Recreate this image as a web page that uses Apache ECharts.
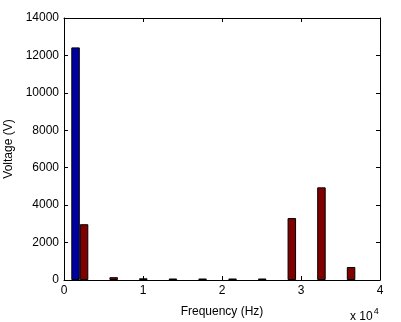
<!DOCTYPE html>
<html>
<head>
<meta charset="utf-8">
<script src="https://cdn.jsdelivr.net/npm/echarts@6/dist/echarts.min.js"></script>
<style>
  html, body { margin: 0; padding: 0; background: #fff; }
  #chart { width: 401px; height: 322px; }
</style>
</head>
<body>
<div id="chart"></div>
<script>
// group centres (Hz)
const freqs = [2000, 5750, 9500, 13250, 17000, 20800, 24550, 28300, 32050, 35800];
// blue series (only the first group has a value)
const blueValues = [12430, 0, 0, 0, 0, 0, 0, 0, 0, 0];
// dark red series
const redValues = [2980, 150, 90, 80, 80, 80, 80, 3310, 4950, 695];
const yTicks = [0, 2000, 4000, 6000, 8000, 10000, 12000, 14000];
const xTicks = [0, 1, 2, 3, 4]; // x 10^4

const font = 'Liberation Sans, Arial, sans-serif';
const chart = echarts.init(document.getElementById('chart'), null, { renderer: 'canvas' });

const boxAxis = {
  axisLine: { show: true, onZero: false, lineStyle: { color: '#000', width: 1 } },
  axisTick: { show: true, inside: true, length: 4, lineStyle: { color: '#000' } },
  splitLine: { show: false }
};

// zero-height bars are not drawn in the original
const pairs = vals => freqs.map((f, i) => [f, vals[i] === 0 ? null : vals[i]]);

const option = {
  backgroundColor: '#fff',
  animation: false,
  grid: { left: 64, right: 21, top: 18, bottom: 42, containLabel: false, outerBoundsMode: 'none' },
  xAxis: [
    Object.assign({}, boxAxis, {
      type: 'value',
      min: xTicks[0] * 10000,
      max: xTicks[xTicks.length - 1] * 10000,
      interval: 10000,
      position: 'bottom',
      name: 'Frequency (Hz)',
      nameLocation: 'middle',
      nameGap: 26,
      nameTextStyle: { color: '#000', fontFamily: font, fontSize: 12 },
      axisLabel: {
        color: '#000', fontFamily: font, fontSize: 12, margin: 5,
        formatter: v => String(v / 10000)
      }
    }),
    Object.assign({}, boxAxis, {
      type: 'value',
      min: 0, max: 40000, interval: 10000,
      position: 'top',
      axisLabel: { show: false }
    })
  ],
  yAxis: [
    Object.assign({}, boxAxis, {
      type: 'value',
      min: yTicks[0],
      max: yTicks[yTicks.length - 1],
      interval: 2000,
      position: 'left',
      name: 'Voltage (V)',
      nameLocation: 'middle',
      nameRotate: 90,
      nameGap: 47,
      nameTextStyle: { color: '#000', fontFamily: font, fontSize: 12 },
      axisLabel: { color: '#000', fontFamily: font, fontSize: 12, margin: 5, formatter: v => String(v) }
    }),
    Object.assign({}, boxAxis, {
      type: 'value',
      min: 0, max: 14000, interval: 2000,
      position: 'right',
      axisLabel: { show: false }
    })
  ],
  series: [
    {
      type: 'bar',
      xAxisIndex: 0,
      yAxisIndex: 0,
      data: pairs(blueValues),
      barWidth: 8.5,
      barGap: '0%',
      itemStyle: { color: '#0000a0', borderColor: '#000', borderWidth: 1 }
    },
    {
      type: 'bar',
      xAxisIndex: 0,
      yAxisIndex: 0,
      data: pairs(redValues),
      barWidth: 8.5,
      barGap: '0%',
      itemStyle: { color: '#800000', borderColor: '#000', borderWidth: 1 }
    }
  ],
  graphic: [
    {
      type: 'text',
      left: 350,
      top: 307,
      style: {
        text: '{a|x 10}{s|4}',
        rich: {
          a: { fontFamily: font, fontSize: 12, fill: '#000', verticalAlign: 'bottom', lineHeight: 16 },
          s: { fontFamily: font, fontSize: 9, fill: '#000', verticalAlign: 'top', lineHeight: 16, padding: [0, 0, 8, 1] }
        }
      }
    }
  ]
};

chart.setOption(option);
</script>
</body>
</html>
